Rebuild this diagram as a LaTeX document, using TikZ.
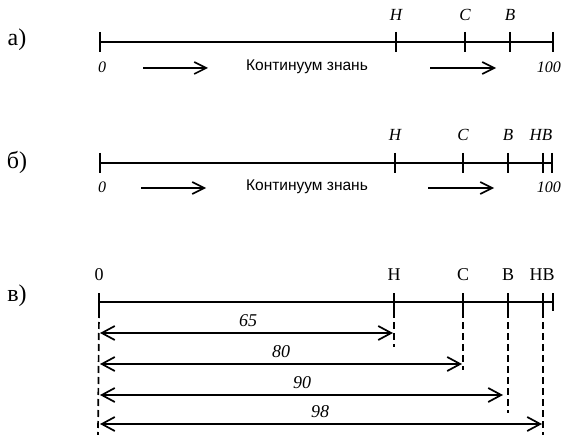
\documentclass[tikz,border=0pt]{standalone}
\usepackage{fontspec}
\setmainfont{Liberation Serif}
\newfontfamily\sansua{Liberation Sans}
\usetikzlibrary{arrows.meta}
\begin{document}
\begin{tikzpicture}[x=1pt,y=-1pt,
  axis/.style={line width=1.7pt},
  tickmark/.style={line width=1.8pt},
  guide/.style={line width=1.7pt, dash pattern=on 7pt off 4pt},
  flow/.style={line width=1.6pt, -{Straight Barb[length=12pt,width=12pt]}},
  span/.style={line width=1.7pt, {Straight Barb[length=13pt,width=14pt]}-{Straight Barb[length=13pt,width=14pt]}},
  panel/.style={inner sep=0pt, font=\fontsize{24}{26}\selectfont},
  marklabel/.style={inner sep=0pt, font=\fontsize{17}{19}\selectfont\itshape},
  uplabel/.style={inner sep=0pt, font=\fontsize{18}{20}\selectfont},
  endlabel/.style={inner sep=0pt, font=\fontsize{16}{18}\selectfont\itshape},
  spanlabel/.style={inner sep=0pt, font=\fontsize{18}{20}\selectfont\itshape},
  caption/.style={inner sep=0pt, font=\sansua\fontsize{15.5}{17}\selectfont},
]
\useasboundingbox (0,0) rectangle (564,435);

% ---------- panel а ----------
\node[panel] (pa) at (17,40) {а)};
\coordinate (a0) at (100,42);
\coordinate (aH) at (396,42);
\coordinate (aC) at (465,42);
\coordinate (aB) at (510,42);
\coordinate (aE) at (553,42);
\draw[axis] (a0) -- (aE);
\foreach \p in {a0,aH,aC,aB,aE}
  \draw[tickmark] ([yshift=10pt]\p) -- ([yshift=-10pt]\p);
\node[marklabel] (aHl) at (396,15) {Н};
\node[marklabel] (aCl) at (465,15) {С};
\node[marklabel] (aBl) at (510,15) {В};
\node[endlabel] (a0l) at (102,67) {0};
\node[endlabel,anchor=east] (aEl) at (561,67) {100};
\node[caption] (acap) at (307,67) {Континуум знань};
\coordinate (af1s) at (143,68);
\coordinate (af1e) at (208,68);
\coordinate (af2s) at (430,68);
\coordinate (af2e) at (496,68);
\draw[flow] (af1s) -- (af1e);
\draw[flow] (af2s) -- (af2e);

% ---------- panel б ----------
\node[panel] (pb) at (17,162) {б)};
\coordinate (b0) at (100,163);
\coordinate (bH) at (395,163);
\coordinate (bC) at (463,163);
\coordinate (bB) at (508,163);
\coordinate (bN) at (543,163);
\coordinate (bE) at (552,163);
\draw[axis] (b0) -- (bE);
\foreach \p in {b0,bH,bC,bB,bN,bE}
  \draw[tickmark] ([yshift=10pt]\p) -- ([yshift=-10pt]\p);
\node[marklabel] (bHl) at (395,135) {Н};
\node[marklabel] (bCl) at (463,135) {С};
\node[marklabel] (bBl) at (508,135) {В};
\node[marklabel] (bNl) at (541,135) {НВ};
\node[endlabel] (b0l) at (102,187) {0};
\node[endlabel,anchor=east] (bEl) at (561,187) {100};
\node[caption] (bcap) at (307,187) {Континуум знань};
\coordinate (bf1s) at (141,188);
\coordinate (bf1e) at (206,188);
\coordinate (bf2s) at (428,188);
\coordinate (bf2e) at (494,188);
\draw[flow] (bf1s) -- (bf1e);
\draw[flow] (bf2s) -- (bf2e);

% ---------- panel в ----------
\node[panel] (pc) at (17,296) {в)};
\coordinate (c0) at (99,302);
\coordinate (cH) at (394,302);
\coordinate (cC) at (463,302);
\coordinate (cB) at (508,302);
\coordinate (cN) at (543,302);
\coordinate (cE) at (553,302);
\draw[axis] (c0) -- (cE);
\foreach \p in {c0,cH,cC,cB,cN,cE}
  \draw[tickmark] ([yshift=9pt]\p) -- ([yshift=-9pt]\p);
\node[uplabel] (c0l) at (99,275) {0};
\node[uplabel] (cHl) at (394,275) {Н};
\node[uplabel] (cCl) at (463,275) {С};
\node[uplabel] (cBl) at (508,275) {В};
\node[uplabel] (cNl) at (542,275) {НВ};

% dashed drop lines
\coordinate (c0d) at (98,435);
\coordinate (cHd) at (394,347);
\coordinate (cCd) at (463,370);
\coordinate (cBd) at (508,413);
\coordinate (cNd) at (543,435);
\draw[guide] ([yshift=-9pt]c0) -- (c0d);
\draw[guide] ([yshift=-9pt]cH) -- (cHd);
\draw[guide] ([yshift=-9pt]cC) -- (cCd);
\draw[guide] ([yshift=-9pt]cB) -- (cBd);
\draw[guide] ([yshift=-9pt]cN) -- (cNd);

% distance spans
\coordinate (s1a) at (100,333); \coordinate (s1b) at (393,333);
\coordinate (s2a) at (100,364); \coordinate (s2b) at (462,364);
\coordinate (s3a) at (100,395); \coordinate (s3b) at (503,395);
\coordinate (s4a) at (100,424); \coordinate (s4b) at (542,424);
\draw[span] (s1a) -- (s1b);
\draw[span] (s2a) -- (s2b);
\draw[span] (s3a) -- (s3b);
\draw[span] (s4a) -- (s4b);
\node[spanlabel] (s1l) at (248,321) {65};
\node[spanlabel] (s2l) at (281,352) {80};
\node[spanlabel] (s3l) at (302,383) {90};
\node[spanlabel] (s4l) at (320,412) {98};
\end{tikzpicture}
\end{document}
